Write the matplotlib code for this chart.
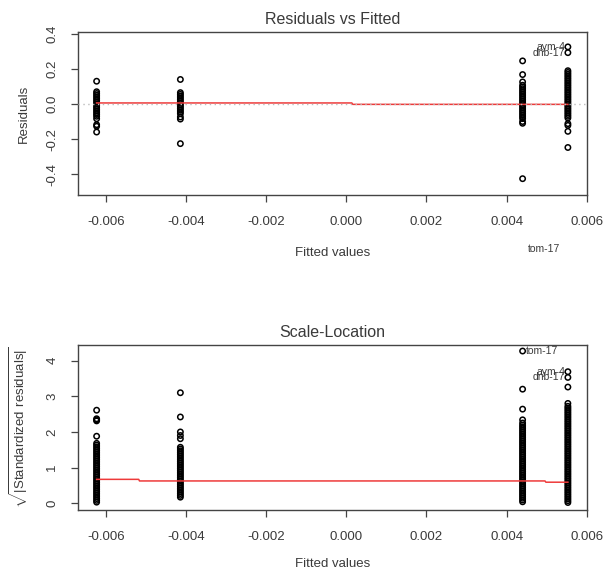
import matplotlib
matplotlib.use("Agg")
import matplotlib.pyplot as plt
from matplotlib.ticker import FormatStrFormatter

plt.rcParams['font.family'] = ['Liberation Sans', 'DejaVu Sans']
plt.rcParams['axes.unicode_minus'] = False
plt.rcParams['mathtext.fontset'] = 'custom'
plt.rcParams['mathtext.rm'] = 'Liberation Sans'

# fitted values of the four groups
fitted = [-0.00623, -0.00414, 0.0044, 0.00553]

# residuals per group
res_g1 = [0.13, 0.07, 0.06, 0.05, 0.04, 0.03, 0.02, 0.01, 0.0, -0.01, -0.02, -0.03,
          -0.04, -0.05, -0.06, -0.07, -0.084, -0.118, -0.127, -0.16]
res_g2 = [0.14, 0.065, 0.055, 0.045, 0.035, 0.025, 0.015, 0.005, -0.005, -0.015,
          -0.025, -0.035, -0.045, -0.055, -0.074, -0.086, -0.226]
res_g3 = [0.246, 0.168, 0.126, 0.107, 0.097, 0.087, 0.077, 0.067, 0.057, 0.047, 0.037,
          0.027, 0.017, 0.007, -0.003, -0.013, -0.023, -0.033, -0.043, -0.053, -0.063,
          -0.073, -0.083, -0.10, -0.11, -0.426]
res_g4 = [0.326, 0.293, 0.19, 0.18, 0.17, 0.16, 0.15, 0.14, 0.13, 0.12, 0.11, 0.10,
          0.09, 0.08, 0.07, 0.06, 0.05, 0.04, 0.03, 0.02, 0.01, 0.0, -0.01, -0.02,
          -0.03, -0.04, -0.05, -0.06, -0.07, -0.08, -0.112, -0.122, -0.156, -0.248]

# sqrt|standardized residuals| per group (bottom panel)
sl_g1 = [2.61, 2.37, 2.34, 2.31, 1.88, 1.68, 1.63, 1.58, 1.53, 1.48, 1.43, 1.38, 1.33,
         1.28, 1.23, 1.18, 1.13, 1.08, 1.03, 0.98, 0.93, 0.88, 0.83, 0.78, 0.73, 0.68,
         0.63, 0.58, 0.53, 0.48, 0.43, 0.38, 0.33, 0.28, 0.23, 0.18, 0.13, 0.08, 0.03]
sl_g2 = [3.1, 2.42, 2.0, 1.9, 1.81, 1.57, 1.52, 1.47, 1.42, 1.37, 1.32, 1.27, 1.22,
         1.17, 1.12, 1.07, 1.02, 0.97, 0.92, 0.87, 0.82, 0.77, 0.72, 0.67, 0.62, 0.57,
         0.52, 0.47, 0.42, 0.37, 0.32, 0.27, 0.22, 0.17]
sl_g3 = [4.27, 3.2, 2.64, 2.34, 2.25, 2.19, 2.14, 2.09, 2.04, 1.99, 1.94, 1.89, 1.84,
         1.79, 1.74, 1.69, 1.64, 1.59, 1.54, 1.49, 1.44, 1.39, 1.34, 1.29, 1.24, 1.19,
         1.14, 1.09, 1.04, 0.99, 0.94, 0.89, 0.84, 0.79, 0.74, 0.69, 0.64, 0.59, 0.54,
         0.49, 0.44, 0.39, 0.34, 0.29, 0.24, 0.19, 0.14, 0.09, 0.04]
sl_g4 = [3.69, 3.53, 3.26, 2.8, 2.72, 2.67, 2.62, 2.57, 2.52, 2.47, 2.42, 2.37, 2.32,
         2.27, 2.22, 2.17, 2.12, 2.07, 2.02, 1.97, 1.92, 1.87, 1.82, 1.77, 1.72, 1.67,
         1.62, 1.57, 1.52, 1.47, 1.42, 1.37, 1.32, 1.27, 1.22, 1.17, 1.12, 1.07, 1.02,
         0.97, 0.92, 0.87, 0.82, 0.77, 0.72, 0.67, 0.62, 0.57, 0.52, 0.47, 0.42, 0.37,
         0.32, 0.27, 0.22, 0.17, 0.12, 0.07, 0.02]

# smoother lines
smooth_top_x = [-0.00623, 0.00014, 0.00016, 0.00553]
smooth_top_y = [0.006, 0.006, -0.002, -0.002]
smooth_bot_x = [-0.00623, -0.00518, -0.00516, 0.00496, 0.00498, 0.00553]
smooth_bot_y = [0.67, 0.67, 0.625, 0.625, 0.59, 0.59]

txt = '#3a3a3a'
fig = plt.figure(figsize=(6.03, 5.74), dpi=100)
ax1 = fig.add_axes([0.129, 0.660, 0.844, 0.284])
ax2 = fig.add_axes([0.129, 0.1115, 0.844, 0.2875])


def draw_points(ax, groups):
    for xv, vals in zip(fitted, groups):
        ax.scatter([xv] * len(vals), vals, s=15, facecolors='none',
                   edgecolors='black', linewidths=1.1, zorder=2)


def style(ax, title, ylab, yticks, yfmt, xpad):
    ax.set_xlim(-0.0067, 0.0060)
    ax.set_xticks([-0.006, -0.004, -0.002, 0.0, 0.002, 0.004, 0.006])
    ax.xaxis.set_major_formatter(FormatStrFormatter('%.3f'))
    ax.set_yticks(yticks)
    ax.yaxis.set_major_formatter(FormatStrFormatter(yfmt))
    ax.tick_params(axis='both', direction='out', length=5, width=0.9,
                   color='#444444', labelcolor=txt, labelsize=9.5)
    ax.tick_params(axis='x', pad=10)
    ax.tick_params(axis='y', pad=9, labelrotation=90)
    for lab in ax.get_yticklabels():
        lab.set_va('center')
    for sp in ax.spines.values():
        sp.set_color('#444444')
        sp.set_linewidth(1.0)
    ax.set_title(title, fontsize=11.5, color=txt, pad=6)
    ax.set_xlabel('Fitted values', fontsize=9.5, color=txt, labelpad=xpad)
    ax.set_ylabel(ylab, fontsize=9.5, color=txt, labelpad=12)


# top: residuals vs fitted
draw_points(ax1, [res_g1, res_g2, res_g3, res_g4])
ax1.plot(smooth_top_x, smooth_top_y, color='#ee3a3a', lw=1.1, zorder=3)
ax1.axhline(0, color='#bbbbbb', lw=1, ls=(0, (1, 2.5)), zorder=4)
ax1.set_ylim(-0.52, 0.41)
style(ax1, 'Residuals vs Fitted', 'Residuals', [-0.4, -0.2, 0.0, 0.2, 0.4], '%.1f', 14)
ax1.annotate('aym-4', xy=(fitted[3], res_g4[0]), xytext=(-3, 0), textcoords='offset pixels',
             ha='right', va='center', fontsize=7.5, color=txt)
ax1.annotate('dnb-17', xy=(fitted[3], res_g4[1]), xytext=(-3, 0), textcoords='offset pixels',
             ha='right', va='center', fontsize=7.5, color=txt)
ax1.annotate('tom-17', xy=(fitted[2], res_g3[-1]), xytext=(21, -70), textcoords='offset pixels',
             ha='center', va='center', fontsize=7.5, color=txt, annotation_clip=False)

# bottom: scale-location
draw_points(ax2, [sl_g1, sl_g2, sl_g3, sl_g4])
ax2.plot(smooth_bot_x, smooth_bot_y, color='#ee3a3a', lw=1.1, zorder=3)
ax2.set_ylim(-0.19, 4.44)
style(ax2, 'Scale-Location', r'$\sqrt{|\mathrm{Standardized\ residuals}|}$',
      [0, 1, 2, 3, 4], '%d', 11)
ax2.annotate('tom-17', xy=(fitted[2], sl_g3[0]), xytext=(3, 0), textcoords='offset pixels',
             ha='left', va='center', fontsize=7.5, color=txt)
ax2.annotate('aym-4', xy=(fitted[3], sl_g4[0]), xytext=(-3, 0), textcoords='offset pixels',
             ha='right', va='center', fontsize=7.5, color=txt)
ax2.annotate('dnb-17', xy=(fitted[3], sl_g4[1]), xytext=(-3, 0), textcoords='offset pixels',
             ha='right', va='center', fontsize=7.5, color=txt)

fig.savefig('out.png', dpi=100, facecolor='white')
